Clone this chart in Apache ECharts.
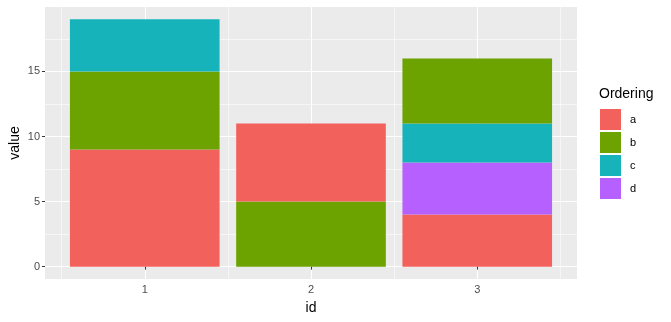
<!DOCTYPE html>
<html><head><meta charset="utf-8">
<script src="https://cdn.jsdelivr.net/npm/echarts@6/dist/echarts.min.js"></script>
<style>html,body{margin:0;padding:0;background:#fff}#c{width:671px;height:322px}</style>
</head><body><div id="c"></div>
<script>
// Data
const categories = ['1', '2', '3'];
const groups = ['a', 'b', 'c', 'd'];
const valuesA = [9, 6, 4];
const valuesB = [6, 5, 5];
const valuesC = [4, 0, 3];
const valuesD = [0, 0, 4];
// stacking order (bottom -> top) for each bar
const stackOrder = [['a', 'b', 'c'], ['b', 'a'], ['a', 'd', 'c', 'b']];
const yTicks = [0, 5, 10, 15];
const yMinor = [2.5, 7.5, 12.5, 17.5];
const xMajor = [1, 2, 3];
const xMinor = [0.5, 1.5, 2.5, 3.5];

const colors = { a: '#F3615C', b: '#6CA300', c: '#17B3BA', d: '#B661FF' };
const valueOf = { a: valuesA, b: valuesB, c: valuesC, d: valuesD };
const FONT = '"Liberation Sans", Arial, sans-serif';

// panel geometry (ggplot-like: discrete expansion 0.6 each side)
const P = { left: 45, top: 7, width: 532, height: 272 };
const unit = P.width / 3.2;
const Y_MIN = -0.95, Y_MAX = 19.95;

const nLayers = Math.max(...stackOrder.map(s => s.length));
const series = [];
// gridlines on panel grid
const majorStyle = { color: '#ffffff', width: 1.1, type: 'solid' };
const minorStyle = { color: '#ffffff', width: 0.55, type: 'solid' };
const gridLines = []
  .concat(yMinor.map(v => ({ yAxis: v, lineStyle: minorStyle })))
  .concat(xMinor.map(v => ({ xAxis: v, lineStyle: minorStyle })))
  .concat(yTicks.map(v => ({ yAxis: v, lineStyle: majorStyle })))
  .concat(xMajor.map(v => ({ xAxis: v, lineStyle: majorStyle })));
series.push({
  type: 'line', xAxisIndex: 0, yAxisIndex: 0, data: [], silent: true, z: 0,
  markLine: { silent: true, symbol: 'none', z: 0, label: { show: false }, animation: false, data: gridLines }
});
for (let k = 0; k < nLayers; k++) {
  const data = categories.map((c, i) => {
    const g = stackOrder[i][k];
    if (!g) return '-';
    return { value: valueOf[g][i], itemStyle: { color: colors[g] } };
  });
  series.push({ type: 'bar', xAxisIndex: 1, yAxisIndex: 1, stack: 'total', barWidth: '90%', data, z: 3, silent: true });
}
// legend series
groups.forEach(g => series.push({ type: 'bar', xAxisIndex: 1, yAxisIndex: 1, name: g, stack: 'total', barWidth: '90%', data: [], itemStyle: { color: colors[g] } }));

const chart = echarts.init(document.getElementById('c'), null, { renderer: 'canvas' });
chart.setOption({
  animation: false,
  backgroundColor: '#ffffff',
  grid: [
    { left: P.left, top: P.top, width: P.width, height: P.height, show: true, backgroundColor: '#EBEBEB', borderWidth: 0, outerBoundsMode: 'none', containLabel: false },
    { left: P.left + 0.1 * unit, top: P.top, width: 3 * unit, height: P.height, show: false, outerBoundsMode: 'none', containLabel: false }
  ],
  xAxis: [{
    gridIndex: 0, type: 'value', min: 0.4, max: 3.6,
    name: 'id', nameLocation: 'middle', nameGap: 22,
    nameTextStyle: { fontFamily: FONT, fontSize: 14, color: '#000' },
    axisLine: { show: false },
    axisTick: { show: true, length: 3, lineStyle: { color: '#333333', width: 1 }, customValues: xMajor },
    axisLabel: { customValues: xMajor, fontFamily: FONT, fontSize: 11, color: '#4D4D4D', margin: 5, formatter: v => String(v) },
    splitLine: { show: false }
  }, {
    gridIndex: 1, type: 'category', data: categories, boundaryGap: true, show: false
  }],
  yAxis: [{
    gridIndex: 0, type: 'value', min: Y_MIN, max: Y_MAX,
    name: 'value', nameLocation: 'middle', nameGap: 23, nameRotate: 90, nameMoveOverlap: false,
    nameTextStyle: { fontFamily: FONT, fontSize: 14, color: '#000' },
    axisLine: { show: false },
    axisTick: { show: true, length: 3, lineStyle: { color: '#333333', width: 1 }, customValues: yTicks },
    axisLabel: { customValues: yTicks, fontFamily: FONT, fontSize: 11, color: '#4D4D4D', margin: 5 },
    splitLine: { show: false }
  }, {
    gridIndex: 1, type: 'value', min: Y_MIN, max: Y_MAX, show: false, splitLine: { show: false }
  }],
  title: {
    text: 'Ordering', left: 599, top: 87, padding: 0,
    textStyle: { fontFamily: FONT, fontSize: 14, fontWeight: 'normal', color: '#000' }
  },
  legend: {
    orient: 'vertical', left: 600, top: 109, padding: 0,
    data: groups, icon: 'rect', itemWidth: 21, itemHeight: 21, itemGap: 2,
    textStyle: { fontFamily: FONT, fontSize: 11, color: '#000', padding: [0, 0, 0, 4] },
    selectedMode: false
  },
  series
});
</script></body></html>
